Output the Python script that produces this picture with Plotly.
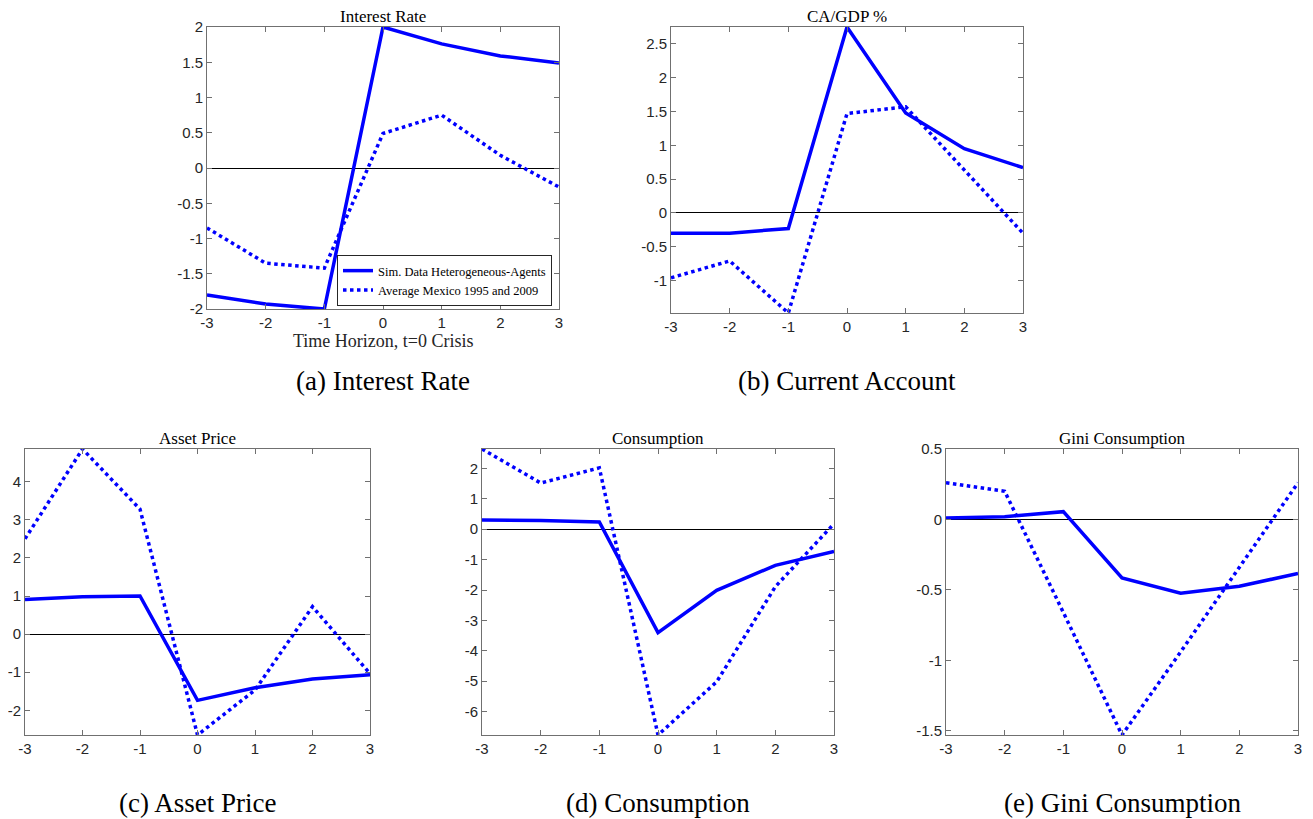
import plotly.graph_objects as go

# time horizon, t=0 crisis
t = [-3, -2, -1, 0, 1, 2, 3]

# simulated heterogeneous-agents model (solid)
sim_rate = [-1.80, -1.93, -2.00, 2.00, 1.76, 1.59, 1.49]
sim_ca = [-0.30, -0.30, -0.23, 2.75, 1.48, 0.95, 0.67]
sim_asset = [0.91, 0.98, 1.00, -1.74, -1.41, -1.18, -1.07]
sim_cons = [0.30, 0.29, 0.24, -3.40, -2.01, -1.19, -0.73]
sim_gini = [0.01, 0.02, 0.055, -0.415, -0.524, -0.474, -0.384]

# average Mexico 1995 and 2009 (dotted)
mex_rate = [-0.85, -1.35, -1.42, 0.49, 0.75, 0.18, -0.27]
mex_ca = [-0.96, -0.71, -1.48, 1.47, 1.57, 0.64, -0.30]
mex_asset = [2.50, 4.86, 3.28, -2.65, -1.47, 0.72, -1.04]
mex_cons = [2.64, 1.52, 2.02, -6.77, -5.02, -1.89, 0.18]
mex_gini = [0.26, 0.20, -0.66, -1.53, -0.94, -0.34, 0.26]

titles = ["Interest Rate", "CA/GDP %", "Asset Price", "Consumption", "Gini Consumption"]
captions = ["(a) Interest Rate", "(b) Current Account", "(c) Asset Price",
            "(d) Consumption", "(e) Gini Consumption"]
y_ranges = [[-2, 2], [-1.48, 2.75], [-2.65, 4.86], [-6.77, 2.64], [-1.53, 0.5]]
y_ticks = [[-2, -1.5, -1, -0.5, 0, 0.5, 1, 1.5, 2],
           [-1, -0.5, 0, 0.5, 1, 1.5, 2, 2.5],
           [-2, -1, 0, 1, 2, 3, 4],
           [-6, -5, -4, -3, -2, -1, 0, 1, 2],
           [-1.5, -1, -0.5, 0, 0.5]]

sims = [sim_rate, sim_ca, sim_asset, sim_cons, sim_gini]
mexs = [mex_rate, mex_ca, mex_asset, mex_cons, mex_gini]

# the page body has an 8px margin, so the figure is 8px smaller and everything is placed 8px up/left
OFF = 8
W, H = 1313 - OFF, 819 - OFF
# plot boxes in page pixels: left, right, top, bottom
boxes = [(207, 559, 27, 309), (671, 1023, 27, 313),
         (25, 370, 449, 735), (482, 834, 449, 735), (946, 1298, 449, 735)]

BLUE = "rgb(0,0,255)"
SERIF = "Liberation Serif, DejaVu Serif, serif"
SANS = "Liberation Sans, Arial, sans-serif"
AXC = "#262626"
LINEC = "#707070"

def px(x):
    return (x - OFF) / W

def py(y):
    return 1 - (y - OFF) / H

def fmt(v):
    return "%g" % v

fig = go.Figure()
layout = dict(width=W, height=H, margin=dict(l=0, r=0, t=0, b=0, autoexpand=False),
              paper_bgcolor="white", plot_bgcolor="white", annotations=[])

for i in range(5):
    n = "" if i == 0 else str(i + 1)
    l, r, tp, bt = boxes[i]
    fig.add_trace(go.Scatter(x=t, y=sims[i], mode="lines", xaxis="x" + n, yaxis="y" + n,
                             line=dict(color=BLUE, width=3.5),
                             name="Sim. Data Heterogeneous-Agents", showlegend=(i == 0)))
    fig.add_trace(go.Scatter(x=t, y=mexs[i], mode="lines", xaxis="x" + n, yaxis="y" + n,
                             line=dict(color=BLUE, width=3.5, dash="dot"),
                             name="Average Mexico 1995 and 2009", showlegend=(i == 0)))
    layout["xaxis" + n] = dict(domain=[px(l), px(r)], anchor="y" + n, range=[-3, 3],
                               tickvals=t, ticktext=[fmt(v) for v in t], automargin=False,
                               showgrid=False, zeroline=False, showline=True, linecolor=LINEC,
                               linewidth=1, mirror="ticks", ticks="inside", ticklen=5,
                               tickcolor=LINEC,
                               tickfont=dict(family=SANS, size=15, color=AXC))
    layout["yaxis" + n] = dict(domain=[py(bt), py(tp)], anchor="x" + n, range=y_ranges[i],
                               tickvals=y_ticks[i], ticktext=[fmt(v) for v in y_ticks[i]],
                               automargin=False,
                               showgrid=False, zeroline=True, zerolinecolor="black",
                               zerolinewidth=1, showline=True, linecolor=LINEC,
                               linewidth=1, mirror="ticks", ticks="inside", ticklen=5,
                               tickcolor=LINEC,
                               tickfont=dict(family=SANS, size=15, color=AXC))
    layout["annotations"].append(dict(text=titles[i], x=px((l + r) / 2), y=py(tp - 11),
                                      xref="paper", yref="paper", xanchor="center",
                                      yanchor="middle", showarrow=False,
                                      font=dict(family=SERIF, size=17, color="black")))
    cap_y = 381 if i < 2 else 803
    layout["annotations"].append(dict(text=captions[i], x=px((l + r) / 2), y=py(cap_y),
                                      xref="paper", yref="paper", xanchor="center",
                                      yanchor="middle", showarrow=False,
                                      font=dict(family=SERIF, size=27, color="black")))

layout["annotations"].append(dict(text="Time Horizon, t=0 Crisis", x=px(383), y=py(341),
                                  xref="paper", yref="paper", xanchor="center", yanchor="middle",
                                  showarrow=False, font=dict(family=SERIF, size=18, color=AXC)))

layout["legend"] = dict(x=px(337), y=py(306), xanchor="left", yanchor="bottom",
                        bgcolor="white", bordercolor=AXC, borderwidth=1,
                        font=dict(family=SERIF, size=12.5, color="black"),
                        tracegroupgap=0, itemwidth=30)

fig.update_layout(**layout)
fig.write_html("out.html")
